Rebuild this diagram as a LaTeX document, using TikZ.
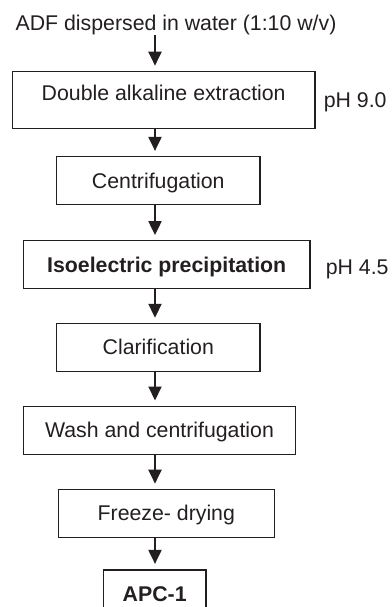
\documentclass[tikz,border=0pt]{standalone}
\usepackage{fontspec}
\setmainfont{Liberation Sans}
\usetikzlibrary{arrows.meta}
\usetikzlibrary{positioning}
\definecolor{ink}{HTML}{231F20}

\begin{document}
\begin{tikzpicture}[x = 1pt, y = 1pt, > = {Triangle[width = 13pt, length = 14pt]}, font = \fontsize{21.3}{25}\selectfont]
\tikzset{
  block/.style = {draw = ink, text = ink, line width = 1.2pt, rectangle, minimum height = 48pt, text height = 15pt, text depth = 0pt, inner sep = 0pt},
  note/.style = {text = ink, inner sep = 0pt, text height = 15pt, text depth = 0pt},
  flow/.style = {->, draw = ink, line width = 2pt, shorten > = 5pt},
}
\useasboundingbox (0,0) rectangle (391,-607);
\clip (0,0) rectangle (391,-607);
\coordinate (spine) at (155,0);
\node [note] (slurry) at (176,-23.5) {ADF dispersed in water (1:10 w/v)};
\node [block, anchor = north, minimum width = 302.7pt, minimum height = 57pt, text depth = 14pt] (extraction) at (163.7,-70.7) {Double alkaline extraction};
\node [block, minimum width = 203.3pt, below = 27pt of extraction, xshift = -5.4pt] (centrifuge) {Centrifugation};
\node [block, minimum width = 286.7pt, below = 35pt of centrifuge, xshift = 8.4pt, font = \fontsize{21.3}{25}\selectfont\bfseries] (isoelectric) {Isoelectric precipitation};
\node [block, minimum width = 203.3pt, below = 33.5pt of isoelectric, xshift = -8.4pt] (clarify) {Clarification};
\node [block, minimum width = 272.3pt, below = 33.5pt of clarify, xshift = 1.2pt] (wash) {Wash and centrifugation};
\node [block, minimum width = 216pt, below = 34pt of wash, xshift = 6.8pt] (freezedry) {Freeze- drying};
\node [block, minimum width = 102.7pt, line width = 1.6pt, below = 31pt of freezedry, xshift = -11.6pt, font = \fontsize{21.3}{25}\selectfont\bfseries] (product) {APC-1};
\node [note, right = 8pt of extraction] (phhigh) {pH 9.0};
\node [note, right = 15pt of isoelectric, yshift = -2.5pt] (phlow) {pH 4.5};
\draw [flow, shorten < = 4pt] (slurry.south -| spine) -- (extraction.north -| spine);
\draw [flow] (extraction.south -| spine) -- (centrifuge.north -| spine);
\draw [flow] (centrifuge.south -| spine) -- (isoelectric.north -| spine);
\draw [flow] (isoelectric.south -| spine) -- (clarify.north -| spine);
\draw [flow] (clarify.south -| spine) -- (wash.north -| spine);
\draw [flow] (wash.south -| spine) -- (freezedry.north -| spine);
\draw [flow] (freezedry.south -| spine) -- (product.north -| spine);
\end{tikzpicture}
\end{document}
